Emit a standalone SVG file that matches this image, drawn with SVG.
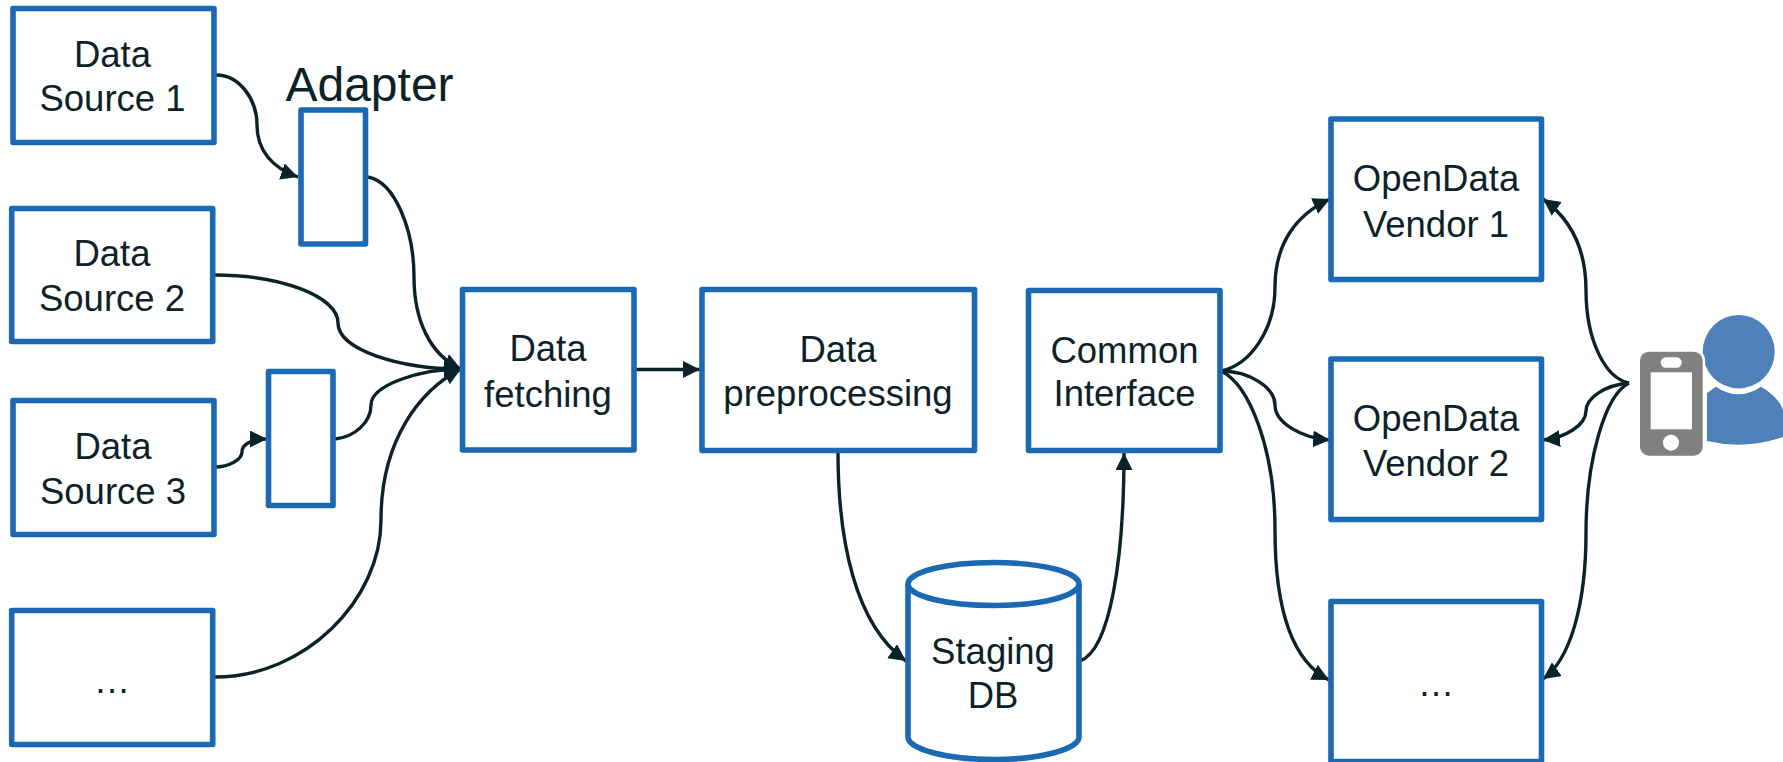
<svg xmlns="http://www.w3.org/2000/svg" width="1783" height="762" viewBox="0 0 1783 762">
<style>
.box{fill:#fff;stroke:#1b68b3;stroke-width:5.600;stroke-linejoin:round}
.c{fill:none;stroke:#0c2229;stroke-width:3.400}
.a{marker-end:url(#arrow)}
text{font-family:"Liberation Sans",Arial,sans-serif;font-size:36.500px;fill:#0c2229;text-anchor:middle}
</style>
<defs>
<marker id="arrow" markerUnits="userSpaceOnUse" markerWidth="20" markerHeight="20" refX="17" refY="8.500" orient="auto">
<path d="M0,0L17,8.500L0,17z" fill="#0c2229"/>
</marker>
</defs>
<rect width="1783" height="762" fill="#fff"/>
<g id="connectors">
<path class="c a" d="M216,75C240,75 257,100 257,125C257,150 272,168 298,177"/>
<path class="c a" d="M368,177C395,182 414,230 414,277C414,320 430,355 461,369"/>
<path class="c a" d="M215,275C280,275 338,296 338,323C338,350 400,369 461,369"/>
<path class="c a" d="M335,439C355,437 371,422 371,405C371,385 420,369 461,369"/>
<path class="c a" d="M215,467C228,467 242,460 242,452C242,444 252,439 267,439"/>
<path class="c a" d="M215,677C305,677 381,600 381,520C381,440 420,390 461,369"/>
<path class="c a" d="M635,369.500L700,369.500"/>
<path class="c a" d="M838,452C838,540 855,625 906,661"/>
<path class="c a" d="M1080,661C1110,650 1124,560 1124,453"/>
<path class="c a" d="M1221,371C1250,365 1275,330 1275,287C1275,245 1295,215 1330,199"/>
<path class="c a" d="M1221,371C1250,371 1275,388 1275,405C1275,422 1300,438 1330,440"/>
<path class="c a" d="M1221,371C1250,385 1275,450 1275,530C1275,605 1290,660 1329,680"/>
<path class="c a" d="M1629,383C1605,378 1586,340 1586,290C1586,250 1572,220 1543,199"/>
<path class="c a" d="M1629,383C1605,385 1586,398 1586,411C1586,425 1565,438 1543,440"/>
<path class="c a" d="M1629,383C1605,395 1586,460 1586,533C1586,605 1570,660 1543,679"/>
</g>
<g id="source1"><rect class="box" x="13" y="8.500" width="201" height="134"/><text x="112.500" y="67">Data</text><text x="112.500" y="111">Source 1</text></g>
<g id="adapter-label"><text x="369.500" y="101" style="font-size:48px">Adapter</text></g>
<g id="adapter1"><rect class="box" x="301" y="110" width="64.500" height="134"/></g>
<g id="source2"><rect class="box" x="11.700" y="208.500" width="201" height="133"/><text x="112" y="266">Data</text><text x="112" y="311">Source 2</text></g>
<g id="source3"><rect class="box" x="13" y="400.500" width="201" height="134"/><text x="113" y="459">Data</text><text x="113" y="504">Source 3</text></g>
<g id="adapter2"><rect class="box" x="268.500" y="371.500" width="64.500" height="134"/></g>
<g id="source4"><rect class="box" x="11.700" y="610.500" width="201" height="134"/><text x="112" y="693">…</text></g>
<g id="fetching"><rect class="box" x="462.500" y="289.500" width="171.500" height="160.500"/><text x="548" y="361">Data</text><text x="548" y="406.500">fetching</text></g>
<g id="preprocessing"><rect class="box" x="702" y="289.500" width="272.500" height="161"/><text x="838" y="361.500">Data</text><text x="838" y="405.500">preprocessing</text></g>
<g id="common"><rect class="box" x="1028.500" y="290.500" width="191.500" height="160"/><text x="1124.500" y="362.500">Common</text><text x="1124.500" y="406">Interface</text></g>
<g id="staging"><path class="box" d="M908,584V737C908,749 946,759.500 993.500,759.500C1041,759.500 1079,749 1079,737V584"/><ellipse class="box" cx="993.500" cy="584" rx="85.500" ry="21.500"/><text x="993" y="664">Staging</text><text x="993" y="708">DB</text></g>
<g id="vendor1"><rect class="box" x="1331" y="119" width="210.500" height="160.500"/><text x="1436" y="191">OpenData</text><text x="1436" y="236.500">Vendor 1</text></g>
<g id="vendor2"><rect class="box" x="1331" y="359" width="210.500" height="160.500"/><text x="1436" y="431">OpenData</text><text x="1436" y="476">Vendor 2</text></g>
<g id="vendor3"><rect class="box" x="1331" y="601.500" width="210.500" height="160"/><text x="1436" y="695.500">…</text></g>
<g id="user">
<ellipse cx="1738.700" cy="351.700" rx="36" ry="36.700" fill="#4f81b9"/>
<path d="M1716,386.700Q1738,402 1761,386.700C1775,395 1783,405 1783,412V437Q1745,450 1707,441V393z" fill="#4f81b9"/>
<rect x="1640" y="351.700" width="62.700" height="104" rx="9" fill="#808080" stroke="#fff" stroke-width="5" paint-order="stroke"/>
<rect x="1650.700" y="372.300" width="41.300" height="57" fill="#fff"/>
<rect x="1660.700" y="357.300" width="21" height="10.400" rx="5.200" fill="#fff"/>
<circle cx="1671" cy="442.700" r="8" fill="#fff"/>
</g>
</svg>
